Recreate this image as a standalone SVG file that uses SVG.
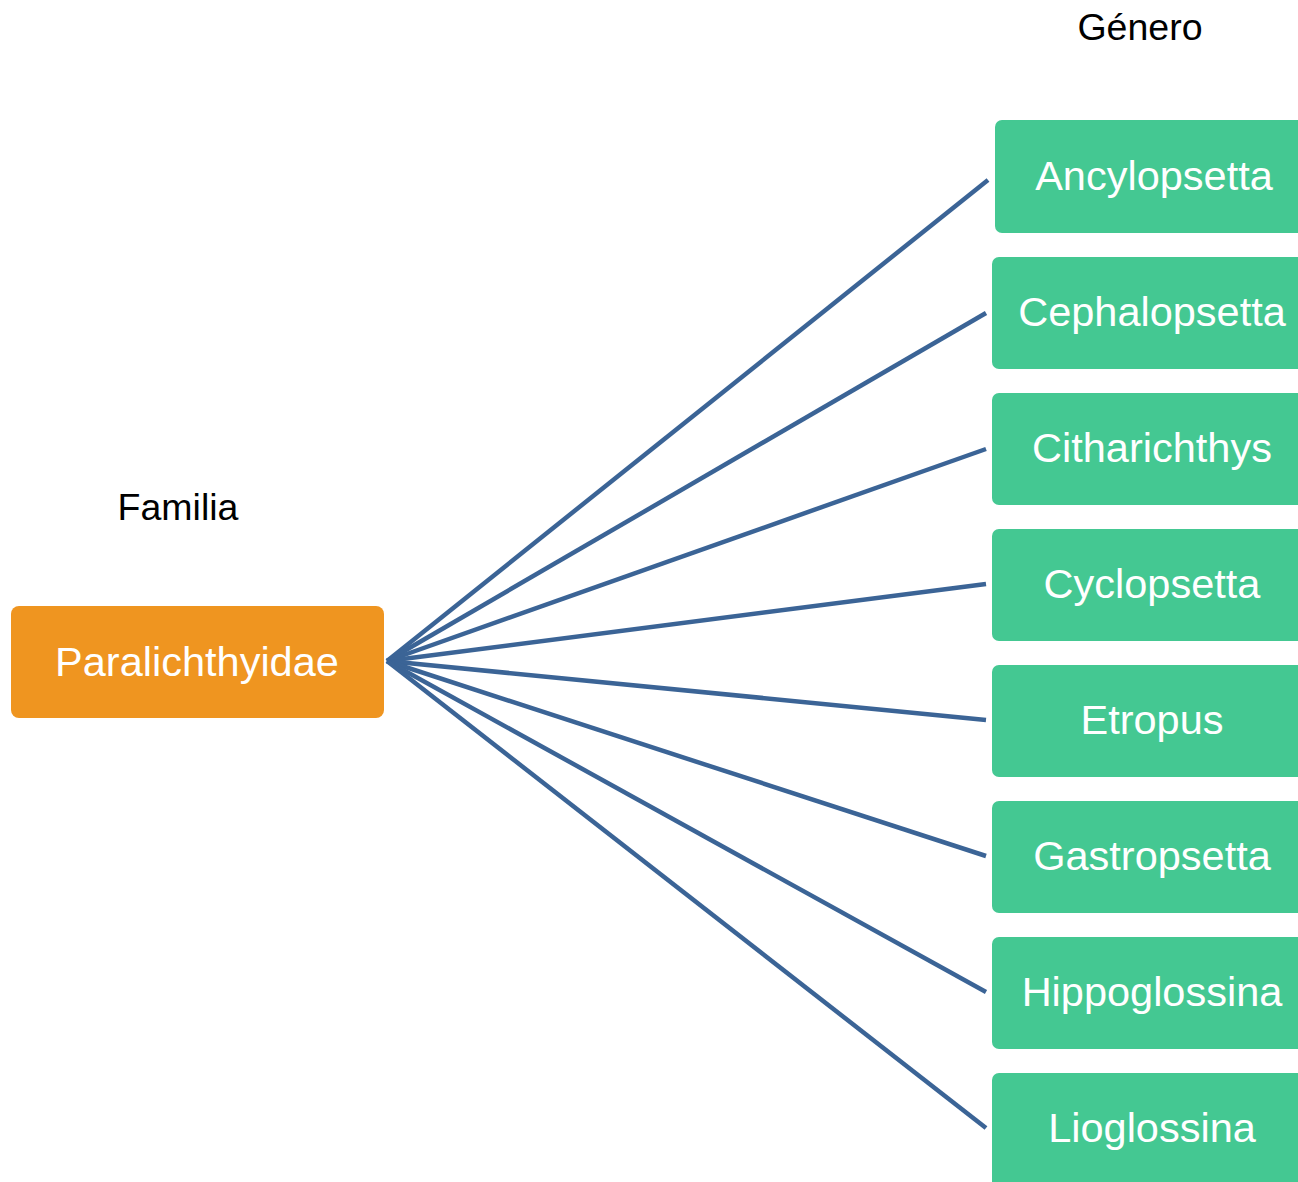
<svg xmlns="http://www.w3.org/2000/svg" width="1298" height="1182" viewBox="0 0 1298 1182">
  <style>
    .lbl { font-family: "Liberation Sans", Arial, sans-serif; fill: #000; font-size: 37.5px; text-anchor: middle; }
    .gen rect { fill: #44C892; }
    .fam rect { fill: #EF9520; }
    .nt { font-family: "Liberation Sans", Arial, sans-serif; fill: #fff; font-size: 41.5px; text-anchor: middle; }
    .edge { stroke: #3B6496; stroke-width: 4.5; fill: none; }
  </style>
  <rect width="1298" height="1182" fill="#fff"/>
  <text class="lbl" x="1140" y="40">Género</text>
  <text class="lbl" x="178" y="520">Familia</text>

  <g id="connectors">
    <line class="edge" x1="387" y1="661" x2="988" y2="180"/>
    <line class="edge" x1="387" y1="661" x2="986" y2="313"/>
    <line class="edge" x1="387" y1="661" x2="986" y2="449"/>
    <line class="edge" x1="387" y1="661" x2="986" y2="584"/>
    <line class="edge" x1="387" y1="661" x2="986" y2="720"/>
    <line class="edge" x1="387" y1="661" x2="986" y2="856"/>
    <line class="edge" x1="387" y1="661" x2="986" y2="992"/>
    <line class="edge" x1="387" y1="661" x2="986" y2="1128"/>
  </g>

  <g id="paralichthyidae" class="fam">
    <rect x="11" y="606" width="373" height="112" rx="8"/>
    <text class="nt" x="197" y="676">Paralichthyidae</text>
  </g>

  <g id="ancylopsetta" class="gen">
    <rect x="995" y="120" width="320" height="113" rx="7"/>
    <text class="nt" x="1154" y="190">Ancylopsetta</text>
  </g>
  <g id="cephalopsetta" class="gen">
    <rect x="992" y="257" width="320" height="112" rx="7"/>
    <text class="nt" x="1152" y="326">Cephalopsetta</text>
  </g>
  <g id="citharichthys" class="gen">
    <rect x="992" y="393" width="320" height="112" rx="7"/>
    <text class="nt" x="1152" y="462">Citharichthys</text>
  </g>
  <g id="cyclopsetta" class="gen">
    <rect x="992" y="529" width="320" height="112" rx="7"/>
    <text class="nt" x="1152" y="598">Cyclopsetta</text>
  </g>
  <g id="etropus" class="gen">
    <rect x="992" y="665" width="320" height="112" rx="7"/>
    <text class="nt" x="1152" y="734">Etropus</text>
  </g>
  <g id="gastropsetta" class="gen">
    <rect x="992" y="801" width="320" height="112" rx="7"/>
    <text class="nt" x="1152" y="870">Gastropsetta</text>
  </g>
  <g id="hippoglossina" class="gen">
    <rect x="992" y="937" width="320" height="112" rx="7"/>
    <text class="nt" x="1152" y="1006">Hippoglossina</text>
  </g>
  <g id="lioglossina" class="gen">
    <rect x="992" y="1073" width="320" height="120" rx="7"/>
    <text class="nt" x="1152" y="1142">Lioglossina</text>
  </g>
</svg>
